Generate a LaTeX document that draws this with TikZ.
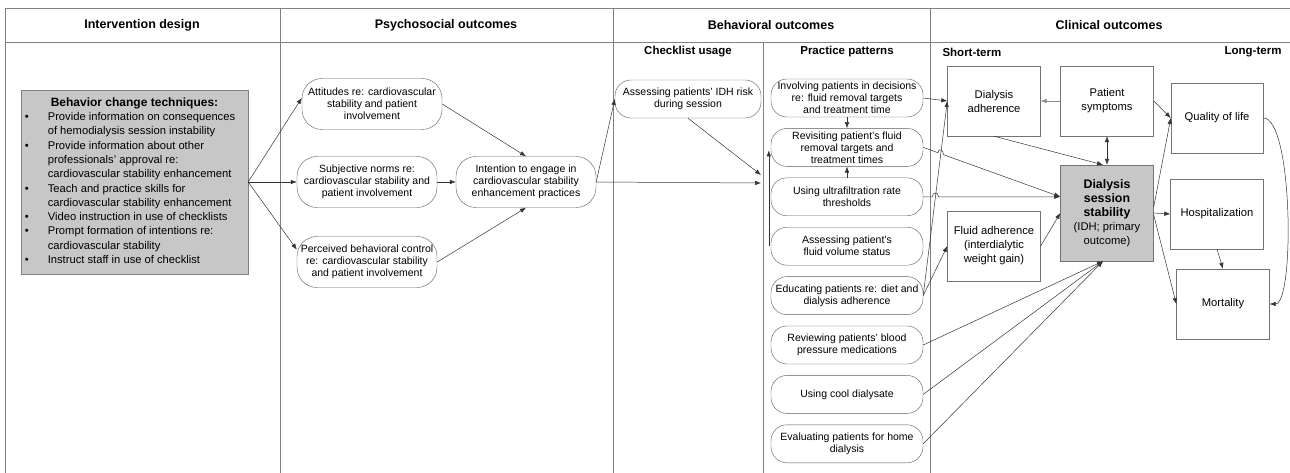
\documentclass[tikz,border=0pt]{standalone}
\usepackage{fontspec}
\setmainfont{Liberation Sans}
\usepackage{tikz}
\usetikzlibrary{arrows.meta,positioning,calc,intersections}
\usepackage{xcolor}

\newcommand{\stabbf}[1]{{\fontsize{12.4}{15.5}\selectfont\bfseries #1}}

\begin{document}
\begin{tikzpicture}[
    x=1pt, y=-1pt,
    node distance=11pt,
    hdr/.style={font=\fontsize{12.5}{14}\selectfont\bfseries},
    subhdr/.style={font=\fontsize{11.5}{14}\selectfont\bfseries},
    gridline/.style={draw=black!50, line width=0.8pt},
    pill/.style={rectangle, draw=black!65, rounded corners=16pt, minimum width=152pt, minimum height=38pt, align=center, inner sep=1pt, font=\fontsize{10.5}{12}\selectfont},
    psy/.style={pill, minimum width=140pt, minimum height=51pt, rounded corners=20pt},
    outbox/.style={rectangle, draw=black!55, minimum width=93pt, minimum height=70pt, align=center, inner sep=1pt, font=\fontsize{11.2}{14}\selectfont},
    keybox/.style={outbox, fill=black!22, minimum height=96pt},
    arrow/.style={->, >={Latex[length=6pt,width=4.5pt]}, draw=black!80, line width=0.5pt}
]
\useasboundingbox (0,0) rectangle (1290,473);

% Table frame
\draw[gridline] (5,8) -- (1290,8);
\draw[gridline] (5,42) -- (1290,42);
\draw[gridline] (5,8) -- (5,473);
\draw[gridline] (280,8) -- (280,473);
\draw[gridline] (613,8) -- (613,473);
\draw[gridline] (763,42) -- (763,473);
\draw[gridline] (930,8) -- (930,473);

% Column headers
\node[hdr] (hdint) at (142,25) {Intervention design};
\node[hdr] (hdpsy) at (446,25) {Psychosocial outcomes};
\node[hdr] (hdbeh) at (771,25) {Behavioral outcomes};
\node[hdr] (hdcli) at (1109,25) {Clinical outcomes};
\node[subhdr] (hdchk) at (688,52) {Checklist usage};
\node[subhdr] (hdprac) at (847,52) {Practice patterns};
\node[subhdr, anchor=west] (hdshort) at (939,52) {Short-term};
\node[subhdr, anchor=east] (hdlong) at (1285,52) {Long-term};

% Intervention design
\node[draw=black!50, fill=black!22, minimum width=227pt, minimum height=184pt, inner sep=0pt, font=\fontsize{11.2}{14.3}\selectfont] (bct) at (134.5,182) {%
  \begin{tabular}{@{}p{23pt}@{}l@{\hspace{9pt}}}
  \multicolumn{2}{c}{\fontsize{12}{14.3}\selectfont\bfseries Behavior change techniques:}\\
  \textbullet & Provide information on consequences\\
   & of hemodialysis session instability\\
  \textbullet & Provide information about other\\
   & professionals' approval re:\\
   & cardiovascular stability enhancement\\
  \textbullet & Teach and practice skills for\\
   & cardiovascular stability enhancement\\
  \textbullet & Video instruction in use of checklists\\
  \textbullet & Prompt formation of intentions re:\\
   & cardiovascular stability\\
  \textbullet & Instruct staff in use of checklist
  \end{tabular}};

% Psychosocial outcomes
\node[psy] (att) at (372,104) {Attitudes re: cardiovascular\\stability and patient\\involvement};
\node[psy] (norm) at (367,182) {Subjective norms re:\\cardiovascular stability and\\patient involvement};
\node[psy] (pbc) at (367,262) {Perceived behavioral control\\re: cardiovascular stability\\and patient involvement};
\node[psy] (intent) at (526,182) {Intention to engage in\\cardiovascular stability\\enhancement practices};

% Behavioral outcomes
\node[pill, minimum width=146pt] (chk) at (688,99) {Assessing patients' IDH risk\\during session};
\node[pill] (inv) at (847,98) {Involving patients in decisions\\re: fluid removal targets\\and treatment time};
\node[pill, below=of inv] (rev) {Revisiting patient's fluid\\removal targets and\\treatment times};
\node[pill, below=of rev] (uf) {Using ultrafiltration rate\\thresholds};
\node[pill, below=of uf] (vol) {Assessing patient's\\fluid volume status};
\node[pill, below=of vol] (edu) {Educating patients re: diet and\\dialysis adherence};
\node[pill, below=of edu] (bp) {Reviewing patients' blood\\pressure medications};
\node[pill, below=of bp] (cool) {Using cool dialysate};
\node[pill, below=of cool] (home) {Evaluating patients for home\\dialysis};
\coordinate (ppa) at (761,175);
\coordinate (ppb) at (761,183);

% Clinical outcomes
\node[outbox] (dadh) at (994,101) {Dialysis\\adherence};
\node[outbox] (symp) at (1107,101) {Patient\\symptoms};
\node[outbox, minimum width=92pt] (qol) at (1217,118) {Quality of life};
\node[keybox] (stab) at (1107,213) {\stabbf{Dialysis}\\\stabbf{session}\\\stabbf{stability}\\(IDH; primary\\outcome)};
\node[outbox] (hosp) at (1217,214) {Hospitalization};
\node[outbox] (fadh) at (994,246) {Fluid adherence\\(interdialytic\\weight gain)};
\node[outbox] (mort) at (1223,304) {Mortality};
\coordinate (stabin) at (uf.east -| stab.west);

% Arrows
\draw[arrow] (bct.east) -- (att.175);
\draw[arrow] (bct.east) -- (norm.west);
\draw[arrow] (bct.east) -- (pbc.170);
\draw[arrow] (att.east) -- (intent.north);
\draw[arrow] (norm.east) -- (intent.west);
\draw[arrow] (pbc.east) -- (intent.south);
\draw[arrow] (intent.east) -- (chk.west);
\draw[arrow] (intent.east) -- (ppb);
\draw[arrow] (chk.south) -- (ppa);

\draw[arrow] (inv.south) -- (rev.north);
\draw[arrow] (uf.north) -- (rev.south);
\draw[arrow] ([xshift=-2pt]vol.west) -- ([xshift=-2pt,yshift=-3pt]rev.west);

\path[name path=edline] (edu.east) -- (dadh.west);
\path[name path=revline] (rev.east) -- (stabin);
\path[name path=ufline] (uf.east) -- (stabin);
\path[name intersections={of=edline and revline, by=hopa}];
\path[name intersections={of=edline and ufline, by=hopb}];

\draw[arrow] (inv.east) -- (dadh.west);
\draw[arrow] (edu.east) -- (dadh.west);
\draw[arrow] (edu.east) -- (fadh.west);
\draw[arrow] (rev.east) -- ($(hopa)!3pt!(rev.east)$) .. controls +(0,-5) and +(0,-5) .. ($(hopa)!3pt!(stabin)$) -- (stabin);
\draw[arrow] (uf.east) -- ($(hopb)!3pt!(uf.east)$) .. controls +(0,-5) and +(0,-5) .. ($(hopb)!3pt!(stabin)$) -- (stabin);
\draw[arrow] (bp.east) -- ([xshift=-4pt]stab.south);
\draw[arrow] (cool.east) -- ([xshift=-4pt]stab.south);
\draw[arrow] (home.east) -- ([xshift=-4pt]stab.south);

\draw[arrow, draw=black!45] (symp.west) -- (dadh.east);
\draw[arrow, <->] (symp.south) -- (stab.north);
\draw[arrow] (dadh.south) -- ([xshift=-4pt]stab.north);
\draw[arrow] (symp.east) -- (qol.west);
\draw[arrow] (fadh.east) -- (stab.west);
\draw[arrow] (stab.east) -- (hosp.west);
\draw[arrow] ([yshift=6pt]stab.east) -- (qol.west);
\draw[arrow] ([yshift=-2pt]stab.east) -- (mort.west);
\draw[arrow] (hosp.south) -- (mort.north);
\draw[arrow] (qol.east) .. controls +(30,0) and +(25,0) .. (mort.east);

\end{tikzpicture}
\end{document}
